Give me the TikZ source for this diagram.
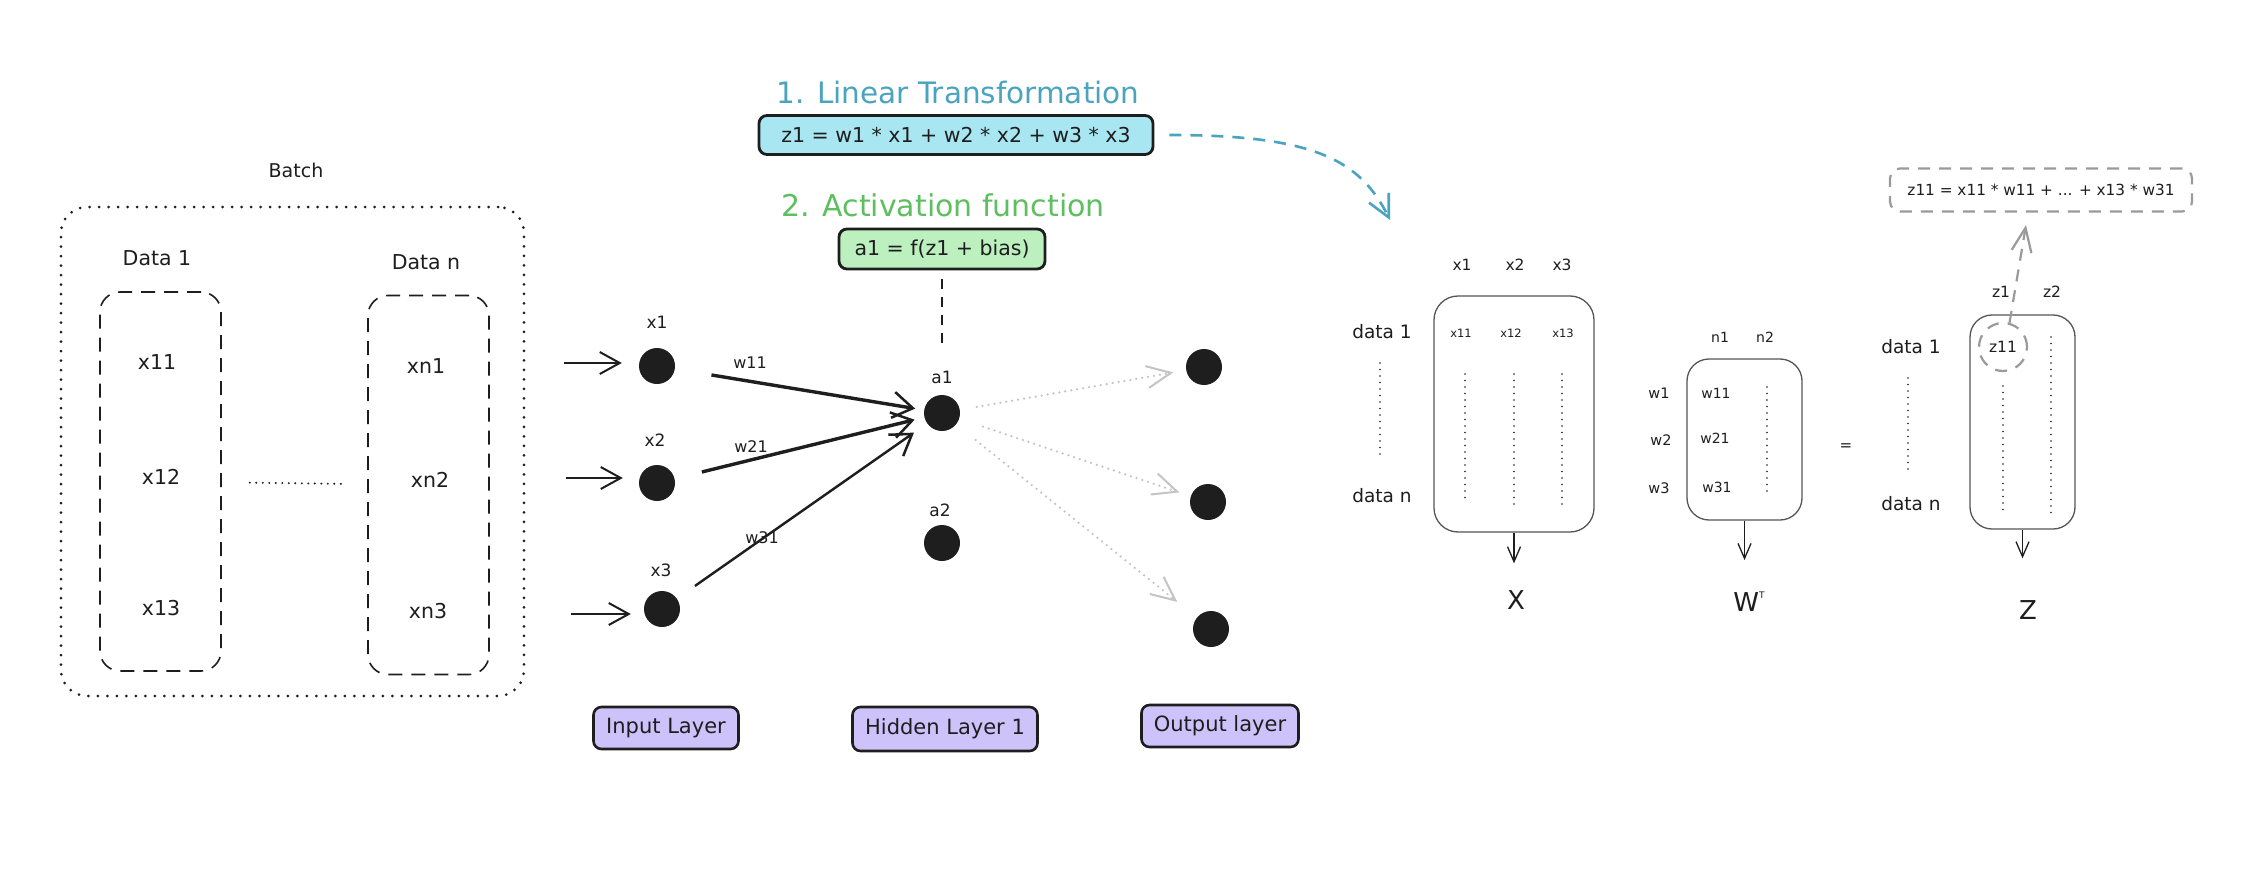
\documentclass[tikz,border=0pt]{standalone}
\usepackage{fontspec}
\setmainfont{DejaVu Sans}
\usetikzlibrary{arrows.meta,positioning}

\definecolor{ink}{HTML}{1E1E1E}
\definecolor{tealtxt}{HTML}{4BA4BF}
\definecolor{cyanfill}{HTML}{A8E6F1}
\definecolor{greentxt}{HTML}{5FBF60}
\definecolor{greenfill}{HTML}{BDF0BF}
\definecolor{lilac}{HTML}{CEC2FB}
\definecolor{greyline}{HTML}{9A9A9A}
\definecolor{greydot}{HTML}{C4C4C4}

\tikzset{
  hand/.style={text=ink, inner sep=0pt, font=\fontsize{#1}{#1}\selectfont},
  hand/.default=17,
  batchbox/.style={draw=ink, line width=3pt, line cap=round, dash pattern=on 0pt off 9.5pt, rounded corners=26pt},
  databox/.style={draw=ink, line width=1.6pt, dash pattern=on 14pt off 9pt, rounded corners=20pt, minimum width=121pt, minimum height=379pt},
  neuron/.style={circle, fill=ink, minimum size=36pt, inner sep=0pt},
  inarrow/.style={draw=ink, line width=2pt, -{Straight Barb[length=20pt,width=22pt,line width=2pt]}},
  weight/.style={draw=ink, line width=3.4pt, -{Straight Barb[length=20pt,width=26pt,line width=2.5pt]}},
  fwd/.style={draw=greydot, line width=2.5pt, line cap=round, dash pattern=on 0pt off 6pt, -{Straight Barb[length=24pt,width=22pt,line width=2pt]}},
  layerbox/.style={draw=ink, line width=2.6pt, fill=lilac, rounded corners=8pt, text=ink, font=\fontsize{21}{21}\selectfont, minimum height=42pt, inner sep=0pt},
  eqbox/.style={draw=ink, line width=2.8pt, rounded corners=8pt, text=ink, font=\fontsize{20.5}{20.5}\selectfont, inner sep=0pt},
  matbox/.style={draw=ink!75, line width=1.3pt, rounded corners=24pt},
  matarrow/.style={draw=ink, line width=1.3pt, -{Straight Barb[length=15pt,width=13pt,line width=1.3pt]}},
  vdots/.style={draw=ink, line width=1.6pt, line cap=round, dash pattern=on 0pt off 6.5pt},
  greydash/.style={draw=greyline, line width=2.2pt, dash pattern=on 12pt off 9pt},
}

\begin{document}
\begin{tikzpicture}[x=1pt,y=-1pt]
\fill[white] (0,0) rectangle (2256,880);
\useasboundingbox (0,0) rectangle (2256,880);

% Batch
\node[hand=19] (batchlbl) at (296,170) {Batch};
\node[batchbox, minimum width=463pt, minimum height=489pt] (batch) at (292.5,451.5) {};
\node[hand=20.5] (d1lbl) at (157,258) {Data 1};
\node[hand=20.5] (dnlbl) at (426,262) {Data n};
\node[databox] (d1box) at (160.5,481.5) {};
\node[databox] (dnbox) at (428.5,485) {};
\node[hand=20.5] (x11) at (157,362) {x11};
\node[hand=20.5] (x12) at (161,477) {x12};
\node[hand=20.5] (x13) at (161,608) {x13};
\node[hand=20.5] (xn1) at (426,366) {xn1};
\node[hand=20.5] (xn2) at (430,480) {xn2};
\node[hand=20.5] (xn3) at (428,611) {xn3};
\draw[vdots, line width=2.2pt, shorten <=28pt, shorten >=21pt] (d1box) -- (dnbox);

% Input layer
\node[neuron] (x1) at (657,366) {};
\node[neuron] (x2) at (657,483) {};
\node[neuron] (x3) at (662,609) {};
\node[hand] (x1lbl) at (657,322) {x1};
\node[hand] (x2lbl) at (655,440) {x2};
\node[hand] (x3lbl) at (661,570) {x3};
\coordinate (in1) at (564,363);
\coordinate (in2) at (566,478);
\coordinate (in3) at (571,614);
\draw[inarrow, shorten >=17pt] (in1) -- (in1 -| x1.west);
\draw[inarrow, shorten >=16pt] (in2) -- (in2 -| x2.west);
\draw[inarrow, shorten >=13pt] (in3) -- (in3 -| x3.west);

% Hidden layer
\node[neuron] (a1) at (942,413) {};
\node[neuron] (a2) at (942,543) {};
\node[hand] (a1lbl) at (942,377) {a1};
\node[hand] (a2lbl) at (940,510) {a2};
\draw[weight, shorten <=37pt, shorten >=9pt] (x1) -- (a1);
\draw[weight, shorten <=28pt, shorten >=10pt] (x2) -- (a1);
\draw[weight, line width=2.4pt, shorten <=22pt, shorten >=16pt] (x3) -- (a1);
\node[hand=16] (w11) at (750,363) {w11};
\node[hand=16] (w21) at (751,447) {w21};
\node[hand=16] (w31) at (762,538) {w31};

% Output layer
\node[neuron] (o1) at (1204,367) {};
\node[neuron] (o2) at (1208,502) {};
\node[neuron] (o3) at (1211,629) {};
\draw[fwd, shorten <=17pt, shorten >=13pt] (a1) -- (o1);
\draw[fwd, shorten <=25pt, shorten >=12pt] (a1) -- (o2);
\draw[fwd, shorten <=25pt, shorten >=25pt] (a1) -- (o3);

% Layer names
\node[layerbox, minimum width=145pt] (inlayer) at (666,728) {Input Layer};
\node[layerbox, minimum width=185pt, minimum height=44pt] (hidlayer) at (945,729) {Hidden Layer 1};
\node[layerbox, minimum width=157pt] (outlayer) at (1220,726) {Output layer};

% Linear transformation and activation
\node[hand=29.5, text=tealtxt] (lintitle) at (958,93) {1. Linear Transformation};
\node[eqbox, fill=cyanfill, minimum width=394pt, minimum height=39pt] (lineq) at (956,135) {z1 = w1 * x1 + w2 * x2 + w3 * x3};
\node[hand=30, text=greentxt] (acttitle) at (943,205) {2. Activation function};
\node[eqbox, fill=greenfill, minimum width=206pt, minimum height=40pt] (acteq) at (942,249) {a1 = f(z1 + bias)};
\draw[draw=ink, line width=2.5pt, dash pattern=on 10pt off 8pt, shorten <=9pt, shorten >=22pt] (acteq.south) -- (a1lbl.north);
\coordinate (lintip) at (1390,220);
\draw[draw=tealtxt, line width=2.6pt, dash pattern=on 12pt off 9pt, -{Straight Barb[length=22pt,width=22pt,line width=2.6pt]}, shorten <=15pt] (lineq.east) .. controls +(160,0) and +(-30,-60) .. (lintip);

% Matrix X
\node[matbox, minimum width=160pt, minimum height=236pt] (Xmat) at (1514,414) {};
\node[hand=15.5] (xc1) at (1462,265) {x1};
\node[hand=15.5] (xc2) at (1515,265) {x2};
\node[hand=15.5] (xc3) at (1562,265) {x3};
\node[hand=18.5] (xr1) at (1382,332) {data 1};
\node[hand=18.5] (xrn) at (1382,496) {data n};
\node[hand=11.5] (m11) at (1461,333) {x11};
\node[hand=11.5] (m12) at (1511,333) {x12};
\node[hand=11.5] (m13) at (1563,333) {x13};
\draw[vdots] (1380,363) -- (1380,458);
\draw[vdots] (1465,374) -- (1465,500);
\draw[vdots] (1514,374) -- (1514,508);
\draw[vdots] (1562,374) -- (1562,508);
\node[hand=26] (Xname) at (1516,600) {X};
\draw[matarrow, shorten >=27pt] (Xmat.south) -- (Xmat.south |- Xname.north);

% Matrix W transposed
\node[matbox, rounded corners=22pt, minimum width=115pt, minimum height=161pt] (Wmat) at (1744.5,439.5) {};
\node[hand=14] (wc1) at (1720,337) {n1};
\node[hand=14] (wc2) at (1765,337) {n2};
\node[hand=14.5] (wr1) at (1659,393) {w1};
\node[hand=14.5] (wr2) at (1661,440) {w2};
\node[hand=14.5] (wr3) at (1659,488) {w3};
\node[hand=14] (v11) at (1716,393) {w11};
\node[hand=14] (v21) at (1715,438) {w21};
\node[hand=14] (v31) at (1717,487) {w31};
\draw[vdots] (1767,387) -- (1767,493);
\node[hand=26] (Wname) at (1749,602) {W\raisebox{13pt}{\fontsize{9}{9}\selectfont T}};
\draw[matarrow, shorten >=32pt] (Wmat.south) -- (Wmat.south |- Wname.north);
\node[hand=15] (eqsign) at (1846,447) {=};

% Matrix Z
\node[matbox, rounded corners=22pt, minimum width=105pt, minimum height=214pt] (Zmat) at (2022.5,422) {};
\node[hand=15.5] (zc1) at (2001,292) {z1};
\node[hand=15.5] (zc2) at (2052,292) {z2};
\node[hand=18.5] (zr1) at (1911,347) {data 1};
\node[hand=18.5] (zrn) at (1911,504) {data n};
\draw[vdots] (1908,378) -- (1908,475);
\node[hand=15.5, circle, greydash, minimum size=48pt] (z11) at (2003,347) {z11};
\draw[vdots] (2003,386) -- (2003,510);
\draw[vdots] (2051,337) -- (2051,517);
\node[hand=26] (Zname) at (2028,610) {Z};
\draw[matarrow, shorten >=42pt] (Zmat.south) -- (Zmat.south |- Zname.north);

% z11 formula
\node[hand=15.3, greydash, rounded corners=10pt, minimum width=302pt, minimum height=43pt] (zform) at (2041,190) {z11 = x11 * w11 + ... + x13 * w31};
\coordinate (ztip) at (2026,225);
\draw[greydash, -{Straight Barb[length=24pt,width=20pt,line width=2.2pt]}] (z11.75) -- (ztip);

\end{tikzpicture}
\end{document}
